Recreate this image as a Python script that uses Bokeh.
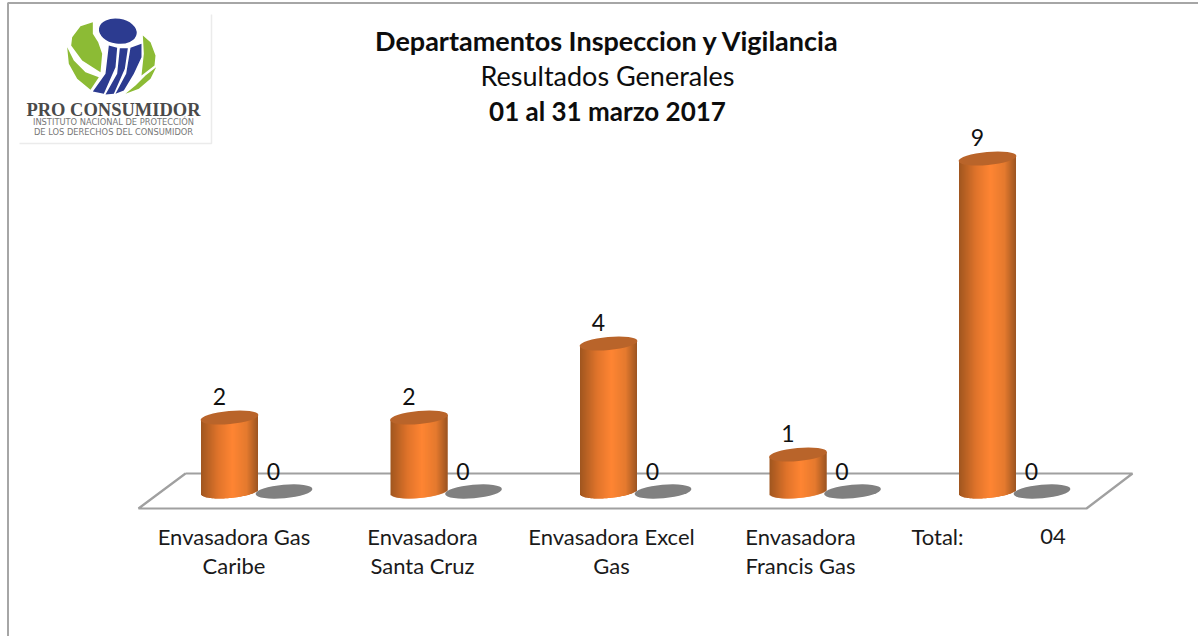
import math
from bokeh.plotting import figure
from bokeh.embed import file_html
from bokeh.resources import INLINE
from bokeh.core.properties import value

# ---------- data ----------
categories = ["Envasadora Gas\nCaribe", "Envasadora\nSanta Cruz", "Envasadora Excel\nGas",
              "Envasadora\nFrancis Gas", "Total:"]
total_label = "04"
serie_a = [2, 2, 4, 1, 9]
serie_b = [0, 0, 0, 0, 0]
title_lines = ["Departamentos Inspeccion y Vigilancia", "Resultados Generales", "01 al 31 marzo 2017"]

# ---------- scale set-up (pixels of the 1198x636 picture) ----------
W, H = 1198, 636
GROUP_PX, X0_PX = 189.5, 229.0
UNIT_PX, BASE_PX = 37.0, 491.0
X = lambda px: (px - X0_PX) / GROUP_PX
Y = lambda py: (BASE_PX - py) / UNIT_PX
FONT = "Lato"

p = figure(width=W, height=H, output_backend="svg", toolbar_location=None,
           x_range=(X(0), X(W)), y_range=(Y(H), Y(0)), min_border=0,
           outline_line_color=None, margin=(0, 0, 0, 0))
p.axis.visible = False
p.grid.visible = False
p.background_fill_color = "white"
p.border_fill_color = "white"

# page frame
p.line([X(7.5), X(7.5), X(W)], [Y(H), Y(2.5), Y(2.5)], line_color="#a6a6a6", line_width=2)

# floor
fx = [185, 138, 1086, 1132, 185]
fy = [473, 508, 508, 473, 473]
p.line([X(v) for v in fx], [Y(v) for v in fy], line_color="#a0a0a0", line_width=2.2)

# ---------- cylinders ----------
def lerp_color(t):
    stops = [(0, (0xa0, 0x56, 0x1f)), (.3, (0xe0, 0x74, 0x2b)), (.55, (0xff, 0x85, 0x33)),
             (.8, (0xe5, 0x7a, 0x2e)), (1, (0x9c, 0x55, 0x22))]
    for (a, ca), (b, cb) in zip(stops, stops[1:]):
        if t <= b:
            f = (t - a) / (b - a)
            return "#%02x%02x%02x" % tuple(int(ca[i] + (cb[i] - ca[i]) * f) for i in range(3))
    return "#9c5522"

HALF, SEMI, SLOPE = 28.5, 6.5, 0.09
ANGLE = math.atan(SLOPE)
l, r, t, b, c = [], [], [], [], []
for i, v in enumerate(serie_a):
    cx = X0_PX + i * GROUP_PX
    n = int(HALF * 2)
    for k in range(n):
        dx = -HALF + k + 0.5
        l.append(X(cx + dx - 0.5))
        # each strip overlaps the next one by a pixel so no seam shows through
        r.append(X(cx + dx + (1.5 if k < n - 1 else 0.5)))
        t.append(v + SLOPE * dx / UNIT_PX)
        low = SLOPE * dx - SEMI * math.sqrt(max(0, 1 - (dx / HALF) ** 2))
        b.append(low / UNIT_PX)
        c.append(lerp_color((dx + HALF) / (2 * HALF)))
p.quad(left=l, right=r, top=t, bottom=b, fill_color=c, line_color=None)
idx = list(range(len(serie_a)))
p.ellipse(x=idx, y=serie_a, width=2 * HALF + 1, height=2 * SEMI, angle=ANGLE,
          width_units="screen", height_units="screen", fill_color="#b9642a", line_color=None)

# zero series
xb = [i + 54.5 / GROUP_PX for i in idx]
p.ellipse(x=xb, y=serie_b, width=2 * HALF, height=2 * SEMI + 0.5, angle=ANGLE,
          width_units="screen", height_units="screen", fill_color="#808080", line_color=None)

# ---------- value labels ----------
lab = dict(text_font=value(FONT), text_font_size="23px", text_color="#111111",
           text_align="center", text_baseline="middle")
p.text(x=idx, y=serie_a, text=[str(v) for v in serie_a], x_offset=-10, y_offset=-21, **lab)
p.text(x=xb, y=serie_b, text=[str(v) for v in serie_b], x_offset=-10.5, y_offset=-20, **lab)

# ---------- category labels ----------
cat_x, cat_y, cat_t = [], [], []
offs = [4.5, 3.5, 3.0, 2.5, -50]
for i, cat in enumerate(categories):
    for j, s in enumerate(cat.split("\n")):
        cat_x.append(i + offs[i] / GROUP_PX); cat_y.append(Y(536 + 29 * j)); cat_t.append(s)
cat_x.append(X(1052.5)); cat_y.append(Y(536)); cat_t.append(total_label)
p.text(x=cat_x, y=cat_y, text=cat_t, text_font=value(FONT), text_font_size="22px",
       text_color="#1a1a1a", text_align="center", text_baseline="alphabetic")

# ---------- titles ----------
for s, py, style, fs in zip(title_lines, [40, 75, 110], ["bold", "normal", "bold"], ["27px", "27px", "26px"]):
    p.text(x=[X(607)], y=[Y(py)], text=[s], text_font=value(FONT), text_font_size=fs,
           text_font_style=style, text_color="#0d0d0d", text_align="center", text_baseline="alphabetic")

# ---------- logo ----------
p.line([X(211), X(211), X(19)], [Y(14), Y(143), Y(143)], line_color="#ebebeb", line_width=1.5)
zx = lambda z: X(55 + z / 3)
zy = lambda z: Y(10 + z / 3)
greens = [
    [(112, 35), (75, 47), (50, 80), (47, 105), (80, 150), (135, 185), (140, 130), (128, 95), (112, 70)],
    [(35, 110), (40, 160), (65, 205), (105, 238), (130, 200), (90, 185), (55, 150)],
    [(262, 75), (285, 95), (300, 135), (297, 165), (258, 195), (265, 130)],
    [(302, 170), (285, 205), (250, 235), (210, 250), (240, 225), (270, 195)],
]
blues = [
    [(160, 105), (185, 112), (180, 170), (145, 250), (112, 243), (150, 190)],
    [(193, 113), (217, 113), (208, 175), (175, 250), (150, 252), (185, 190)],
    [(225, 112), (258, 100), (258, 140), (235, 190), (205, 240), (180, 250), (212, 190)],
]
for polys, col in ((greens, "#8cbb35"), (blues, "#2c3b90")):
    p.patches([[zx(a) for a, _ in g] for g in polys], [[zy(b) for _, b in g] for g in polys],
              fill_color=col, line_color=None)
p.ellipse(x=[zx(187)], y=[zy(62)], width=38, height=25, angle=-0.15,
          width_units="screen", height_units="screen", fill_color="#2c3b90", line_color=None)
p.text(x=[X(113)], y=[Y(109)], text=["PRO CONSUMIDOR"], text_font=value("Liberation Serif"),
       text_font_size="18.5px", text_font_style="bold", text_color="#4a4a4a",
       text_align="center", text_baseline="alphabetic")
for s, py in (("INSTITUTO NACIONAL DE PROTECCIÓN", 121), ("DE LOS DERECHOS DEL CONSUMIDOR", 131)):
    p.text(x=[X(113)], y=[Y(py)], text=[s], text_font=value("DejaVu Sans"), text_font_size="8.3px",
           text_color="#777777", text_align="center", text_baseline="alphabetic")

open("out.html", "w").write(file_html(p, INLINE))
